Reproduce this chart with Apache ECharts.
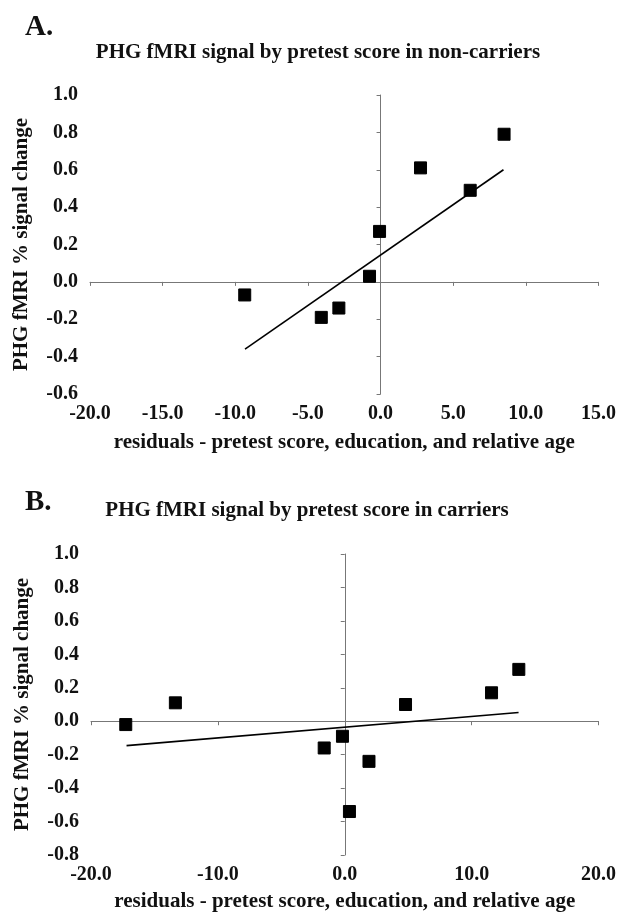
<!DOCTYPE html>
<html>
<head>
<meta charset="utf-8">
<script src="https://cdn.jsdelivr.net/npm/echarts@6/dist/echarts.min.js"></script>
<style>
  html, body { margin: 0; padding: 0; background: #fff; }
  #chart { width: 619px; height: 917px; }
</style>
</head>
<body>
<div id="chart"></div>
<script>
// ---- Data ----
const panelLabels = ['A.', 'B.'];
const titles = [
  'PHG fMRI signal by pretest score in non-carriers',
  'PHG fMRI signal by pretest score in carriers'
];
const xName = 'residuals - pretest score, education, and relative age';
const yName = 'PHG fMRI % signal change';

// Panel A: non-carriers
const nonCarrierX = [-9.35, -4.08, -2.87, -0.76, -0.07, 2.75, 6.17, 8.5];
const nonCarrierY = [-0.07, -0.19, -0.14, 0.03, 0.27, 0.61, 0.49, 0.79];
const nonCarrierTrendX = [-9.33, 8.46];
const nonCarrierTrendY = [-0.36, 0.60];

// Panel B: carriers
const carrierX = [-17.26, -13.35, -1.62, -0.18, 0.37, 1.91, 4.79, 11.57, 13.72];
const carrierY = [-0.02, 0.11, -0.16, -0.09, -0.54, -0.24, 0.10, 0.17, 0.31];
const carrierTrendX = [-17.2, 13.7];
const carrierTrendY = [-0.146, 0.052];

// Axis ranges
const axisA = { xMin: -20, xMax: 15, xStep: 5, yMin: -0.6, yMax: 1.0, yStep: 0.2 };
const axisB = { xMin: -20, xMax: 20, xStep: 10, yMin: -0.8, yMax: 1.0, yStep: 0.2 };

// ---- Build chart ----
const FONT = "'Liberation Serif', 'Times New Roman', serif";
const TXT = '#111';
const AXC = '#777';
const zip = (xs, ys) => xs.map((x, i) => [x, ys[i]]);
const fmt1 = v => (Math.abs(v) < 1e-9 ? 0 : v).toFixed(1);

const grids = [
  { left: 90, right: 20, top: 95, height: 299 },
  { left: 91, right: 20, top: 554, height: 301 }
];
const ranges = [axisA, axisB];
const xNameGap = [38, 36];
const xAxes = [], yAxes = [];
ranges.forEach((r, g) => {
  // label axes (edges)
  xAxes.push({
    gridIndex: g, type: 'value', min: r.xMin, max: r.xMax, interval: r.xStep,
    position: 'bottom',
    axisLine: { show: false, onZero: false }, axisTick: { show: false }, splitLine: { show: false },
    axisLabel: { formatter: fmt1, fontFamily: FONT, fontWeight: 'bold', fontSize: 20, color: TXT, margin: 10 },
    name: xName, nameLocation: 'middle', nameGap: xNameGap[g],
    nameTextStyle: { fontFamily: FONT, fontWeight: 'bold', fontSize: 21, color: TXT }
  });
  // crossing axis lines (at zero)
  xAxes.push({
    gridIndex: g, type: 'value', min: r.xMin, max: r.xMax, interval: r.xStep,
    axisLine: { show: true, onZero: true, onZeroAxisIndex: 2 * g + 1, lineStyle: { color: AXC, width: 1 } },
    axisTick: { show: true, inside: true, length: 4, lineStyle: { color: AXC } },
    axisLabel: { show: false }, splitLine: { show: false }
  });
  yAxes.push({
    gridIndex: g, type: 'value', min: r.yMin, max: r.yMax, interval: r.yStep,
    position: 'left',
    axisLine: { show: false, onZero: false }, axisTick: { show: false }, splitLine: { show: false },
    axisLabel: { formatter: fmt1, fontFamily: FONT, fontWeight: 'bold', fontSize: 20, color: TXT, margin: 12 },
    name: yName, nameLocation: 'middle', nameGap: 58, nameRotate: 90,
    nameTextStyle: { fontFamily: FONT, fontWeight: 'bold', fontSize: 21, color: TXT }
  });
  yAxes.push({
    gridIndex: g, type: 'value', min: r.yMin, max: r.yMax, interval: r.yStep,
    axisLine: { show: true, onZero: true, onZeroAxisIndex: 2 * g + 1, lineStyle: { color: AXC, width: 1 } },
    axisTick: { show: true, inside: true, length: 4, lineStyle: { color: AXC } },
    axisLabel: { show: false }, splitLine: { show: false }
  });
});

const scatterStyle = { color: '#000', borderColor: '#000', opacity: 1 };
const lineStyle = { color: '#000', width: 1.6 };
const series = [
  { type: 'scatter', xAxisIndex: 0, yAxisIndex: 0, symbol: 'rect', symbolSize: 12,
    itemStyle: scatterStyle, data: zip(nonCarrierX, nonCarrierY), z: 3 },
  { type: 'line', xAxisIndex: 0, yAxisIndex: 0, symbol: 'none', lineStyle: lineStyle,
    data: zip(nonCarrierTrendX, nonCarrierTrendY), z: 2 },
  { type: 'scatter', xAxisIndex: 2, yAxisIndex: 2, symbol: 'rect', symbolSize: 12,
    itemStyle: scatterStyle, data: zip(carrierX, carrierY), z: 3 },
  { type: 'line', xAxisIndex: 2, yAxisIndex: 2, symbol: 'none', lineStyle: lineStyle,
    data: zip(carrierTrendX, carrierTrendY), z: 2 }
];

const titleComps = [
  { text: panelLabels[0], left: 20, top: 8, textStyle: { fontFamily: FONT, fontWeight: 'bold', fontSize: 29, color: TXT } },
  { text: titles[0], left: 313, top: 37, textAlign: 'center', textStyle: { fontFamily: FONT, fontWeight: 'bold', fontSize: 21, color: TXT } },
  { text: panelLabels[1], left: 20, top: 483, textStyle: { fontFamily: FONT, fontWeight: 'bold', fontSize: 29, color: TXT } },
  { text: titles[1], left: 302, top: 495, textAlign: 'center', textStyle: { fontFamily: FONT, fontWeight: 'bold', fontSize: 21, color: TXT } }
];

const chart = echarts.init(document.getElementById('chart'), null, { renderer: 'canvas' });
chart.setOption({
  animation: false,
  backgroundColor: '#fff',
  title: titleComps,
  grid: grids,
  xAxis: xAxes,
  yAxis: yAxes,
  series: series
});
</script>
</body>
</html>
